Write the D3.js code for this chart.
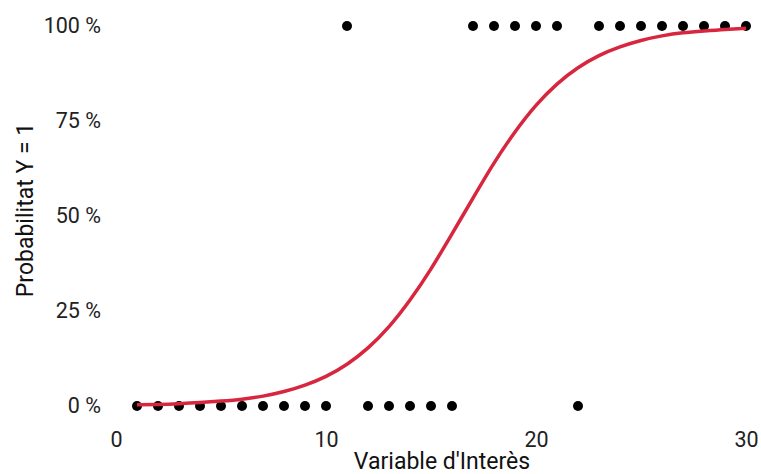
<!DOCTYPE html>
<html>
<head>
<meta charset="utf-8">
<script src="https://cdn.jsdelivr.net/npm/d3@7"></script>
<style>
  body { margin: 0; background: #fff; }
  text { font-family: Roboto, "Noto Sans", sans-serif; }
</style>
</head>
<body>
<div id="chart"></div>
<script>
// Observed points (x = variable, y = outcome 0/1)
const obsX = [1, 2, 3, 4, 5, 6, 7, 8, 9, 10, 11, 12, 13, 14, 15, 16, 17, 18, 19, 20, 21, 22, 23, 24, 25, 26, 27, 28, 29, 30];
const obsY = [0, 0, 0, 0, 0, 0, 0, 0, 0, 0, 1, 0, 0, 0, 0, 0, 1, 1, 1, 1, 1, 0, 1, 1, 1, 1, 1, 1, 1, 1];

// Fitted probability curve
const curveX = [1, 2, 3, 4, 5, 6, 7, 8, 9, 10, 11, 12, 13, 14, 15, 16, 17, 18, 19, 20, 21, 22, 23, 24, 25, 26, 27, 28, 29, 30];
const curveP = [0.003, 0.004, 0.006, 0.009, 0.013, 0.018, 0.026, 0.038, 0.055, 0.078, 0.11, 0.153, 0.209, 0.279, 0.361, 0.453, 0.547, 0.639, 0.721, 0.791, 0.847, 0.89, 0.922, 0.945, 0.962, 0.974, 0.982, 0.987, 0.991, 0.994];

const xTicks = [0, 10, 20, 30];
const yTicks = [0, 0.25, 0.5, 0.75, 1];

const W = 761, H = 474;
const margin = { top: 26, right: 15, bottom: 68, left: 116 };

const svg = d3.select("#chart")
  .append("svg")
  .attr("width", W)
  .attr("height", H);

const x = d3.scaleLinear().domain([0, 30]).range([margin.left, 746]);
const y = d3.scaleLinear().domain([0, 1]).range([406, margin.top]);

// y axis labels
const yAxis = svg.append("g")
  .attr("transform", `translate(${margin.left - 6},0)`)
  .call(d3.axisLeft(y).tickValues(yTicks).tickSize(0).tickPadding(9)
    .tickFormat(d => Math.round(d * 100) + " %"));
yAxis.select(".domain").remove();
yAxis.selectAll("text").attr("font-size", 21.5).attr("fill", "#222").attr("font-family", "Roboto");

// x axis labels
const xAxis = svg.append("g")
  .attr("transform", `translate(0,${428})`)
  .call(d3.axisBottom(x).tickValues(xTicks).tickSize(0).tickPadding(4));
xAxis.select(".domain").remove();
xAxis.selectAll("text").attr("font-size", 21.5).attr("fill", "#222").attr("font-family", "Roboto");

// axis titles
svg.append("text")
  .attr("x", 442)
  .attr("y", 469)
  .attr("text-anchor", "middle")
  .attr("font-size", 23)
  .attr("fill", "#111")
  .text("Variable d'Interès");

svg.append("text")
  .attr("transform", "translate(33,210) rotate(-90)")
  .attr("text-anchor", "middle")
  .attr("font-size", 23)
  .attr("fill", "#111")
  .text("Probabilitat Y = 1");

// points
const pts = obsX.map((d, i) => ({ x: d, y: obsY[i] }));
svg.append("g")
  .selectAll("circle")
  .data(pts)
  .enter()
  .append("circle")
  .attr("cx", d => x(d.x))
  .attr("cy", d => y(d.y))
  .attr("r", 5)
  .attr("fill", "#000");

// fitted curve
const line = d3.line()
  .x(d => x(d[0]))
  .y(d => y(d[1]))
  .curve(d3.curveNatural);

svg.append("path")
  .datum(curveX.map((d, i) => [d, curveP[i]]))
  .attr("d", line)
  .attr("fill", "none")
  .attr("stroke", "#D7263D")
  .attr("stroke-width", 3.5);
</script>
</body>
</html>
